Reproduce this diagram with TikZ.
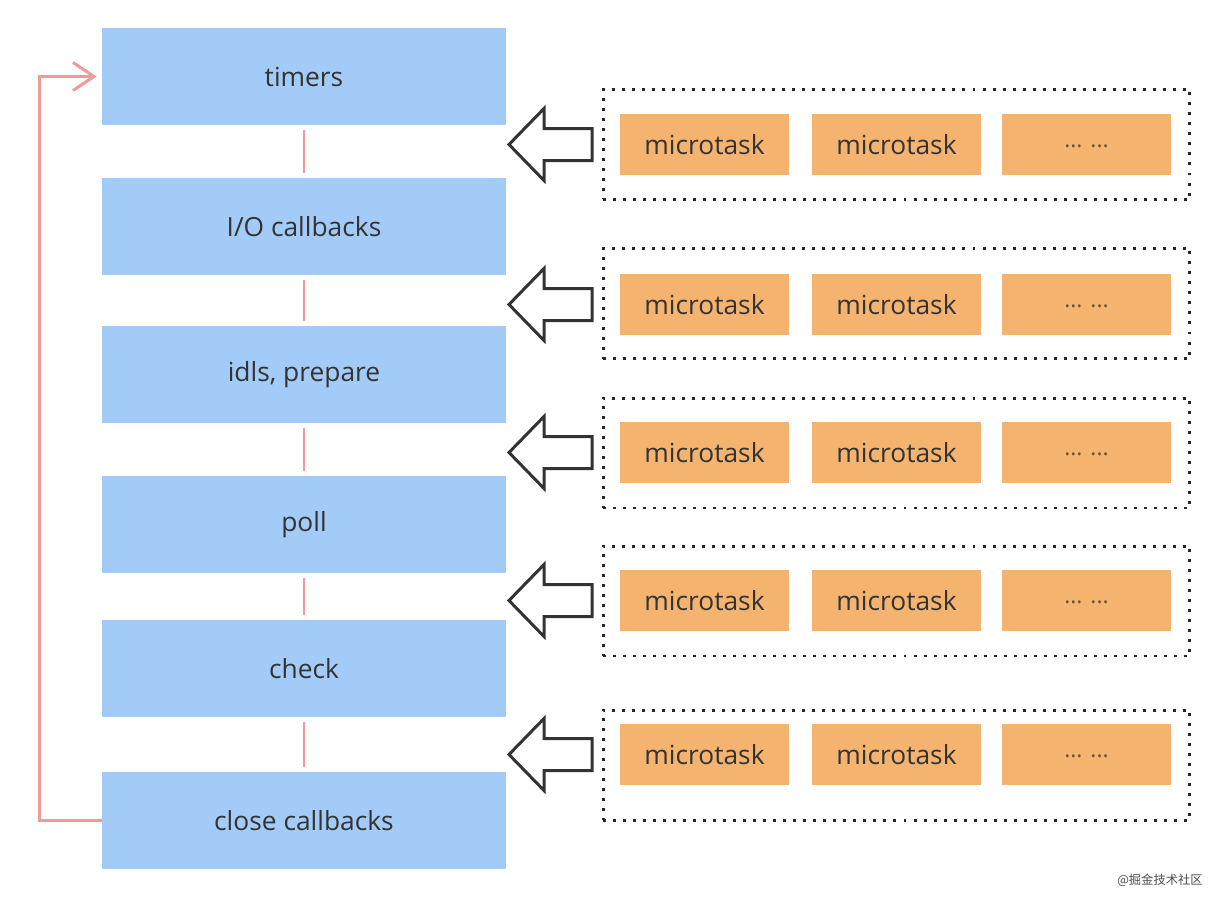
\documentclass[tikz,border=0pt]{standalone}
\usepackage{fontspec}
\setmainfont{Open Sans}
\newfontfamily\cjkfont{Noto Sans CJK SC}
\usetikzlibrary{arrows.meta, positioning}

\definecolor{phaseblue}{HTML}{A3CBF8}
\definecolor{taskorange}{HTML}{F4B36F}
\definecolor{linkpink}{HTML}{F29A9A}
\definecolor{textgray}{HTML}{333333}

\tikzset{
  phase/.style={fill=phaseblue, minimum width=8.08cm, minimum height=1.94cm,
    inner sep=0pt, text=textgray, font=\fontsize{15}{17}\selectfont},
  task/.style={fill=taskorange, minimum width=3.38cm, minimum height=1.22cm,
    inner sep=0pt, text=textgray, font=\fontsize{15}{17}\selectfont},
  queue/.style={draw=black!85, line width=1.7pt, dash pattern=on 1.7pt off 4pt,
    minimum width=11.74cm, minimum height=2.2cm, inner sep=0pt},
  hollow/.style={draw=black!80, line width=1.7pt, fill=white, line join=miter},
  link/.style={draw=linkpink, line width=1.7pt, shorten <=0.1cm, shorten >=0.1cm},
  loopback/.style={draw=linkpink, line width=1.7pt,
    -{Straight Barb[length=0.42cm, width=0.56cm, line width=1.7pt]}},
}

\begin{document}
\begin{tikzpicture}[x=0.02cm, y=-0.02cm]
\useasboundingbox (0,0) rectangle (1220,904);

% Event loop phases
\node[phase] (timers) at (304,76.5) {timers};
\node[phase] (io) at (304,226.5) {I/O callbacks};
\node[phase] (idle) at (304,374.5) {idls, prepare};
\node[phase] (poll) at (304,524.5) {poll};
\node[phase] (check) at (304,668.5) {check};
\node[phase] (close) at (304,820.5) {close callbacks};

% Links between phases
\draw[link] (timers) -- (io);
\draw[link] (io) -- (idle);
\draw[link] (idle) -- (poll);
\draw[link] (poll) -- (check);
\draw[link] (check) -- (close);

% Back to timers
\draw[loopback] (close.west) -- ++(-62,0) |- ([xshift=-0.1cm]timers.west);

% Microtask queues, one after each phase
\foreach \i/\ty/\qy in {1/144.5/144.5, 2/304.5/303.5, 3/452.5/453, 4/600.5/601, 5/754.5/765} {
  \node[queue] (queue\i) at (896.5,\qy) {};
  \node[task] (taskA\i) at (704.5,\ty) {microtask};
  \node[task] (taskB\i) at (896.5,\ty) {microtask};
  \node[task, text=black!55!taskorange, font=\fontsize{13}{15}\selectfont] (more\i) at (1086.5,\ty) {\raisebox{-0.12cm}{... ...}};
  % hollow arrow pointing at the phase
  \coordinate (tip\i) at (509,\ty);
  \draw[hollow] (tip\i) -- ++(35,-36) -- ++(0,20) -- ++(48,0) -- ++(0,32)
    -- ++(-48,0) -- ++(0,20) -- cycle;
}

% Watermark
\node[text=black!70, font=\cjkfont\fontsize{7}{8}\selectfont] (mark) at (1160,880) {@掘金技术社区};
\end{tikzpicture}
\end{document}
